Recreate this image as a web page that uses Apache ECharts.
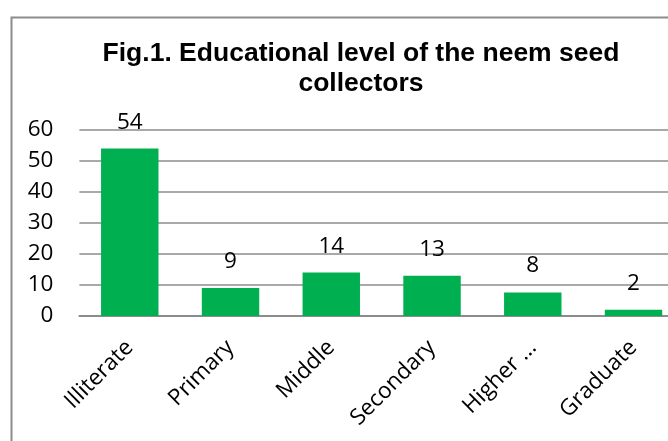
<!DOCTYPE html>
<html>
<head>
<meta charset="utf-8">
<script src="https://cdn.jsdelivr.net/npm/echarts@6/dist/echarts.min.js"></script>
<style>
html,body{margin:0;padding:0;background:#fff;overflow:hidden;width:668px;height:441px;}
#chart{width:720px;height:441px;}
</style>
</head>
<body>
<div id="chart"></div>
<script>
const titleText = "Fig.1. Educational level of the neem seed\ncollectors";
const categories = ["Illiterate", "Primary", "Middle", "Secondary", "Higher …", "Graduate"];
const values = [54, 9, 14, 13, 7.6, 2];
const yTicks = { min: 0, max: 60, interval: 10 };

const chart = echarts.init(document.getElementById('chart'), null, { renderer: 'canvas' });
chart.setOption({
  backgroundColor: '#fff',
  animation: false,
  graphic: [{
    type: 'rect', left: 9, top: 15,
    shape: { width: 800, height: 600 },
    style: { fill: 'none', stroke: '#8c8c8c', lineWidth: 2 },
    silent: true
  }],
  title: {
    text: titleText,
    left: 356, top: 34, textAlign: 'center',
    textStyle: { fontFamily: 'Liberation Sans, Arial', fontWeight: 'bold', fontSize: 26.5, lineHeight: 30, color: '#000' }
  },
  grid: { left: 79.4, top: 130, width: 604.5, height: 186, containLabel: false },
  xAxis: {
    type: 'category', data: categories,
    axisLine: { lineStyle: { color: '#8c8c8c', width: 2 } },
    axisTick: { show: false },
    axisLabel: { rotate: 45, margin: 28, interval: 0, fontFamily: 'Open Sans', fontSize: 22.5, color: '#000' }
  },
  yAxis: {
    type: 'value', min: yTicks.min, max: yTicks.max, interval: yTicks.interval,
    axisLine: { show: false }, axisTick: { show: false },
    splitLine: { lineStyle: { color: '#8c8c8c', width: 1.5 } },
    axisLabel: { margin: 26, fontFamily: 'Open Sans', fontSize: 22.5, color: '#000' }
  },
  series: [{
    type: 'bar', data: values, barWidth: '57%',
    itemStyle: { color: '#00b050' },
    label: { show: true, position: 'top', distance: 15, fontFamily: 'Open Sans', fontSize: 22.5, color: '#000',
      formatter: p => Math.round(p.value) }
  }]
});
</script>
</body>
</html>
